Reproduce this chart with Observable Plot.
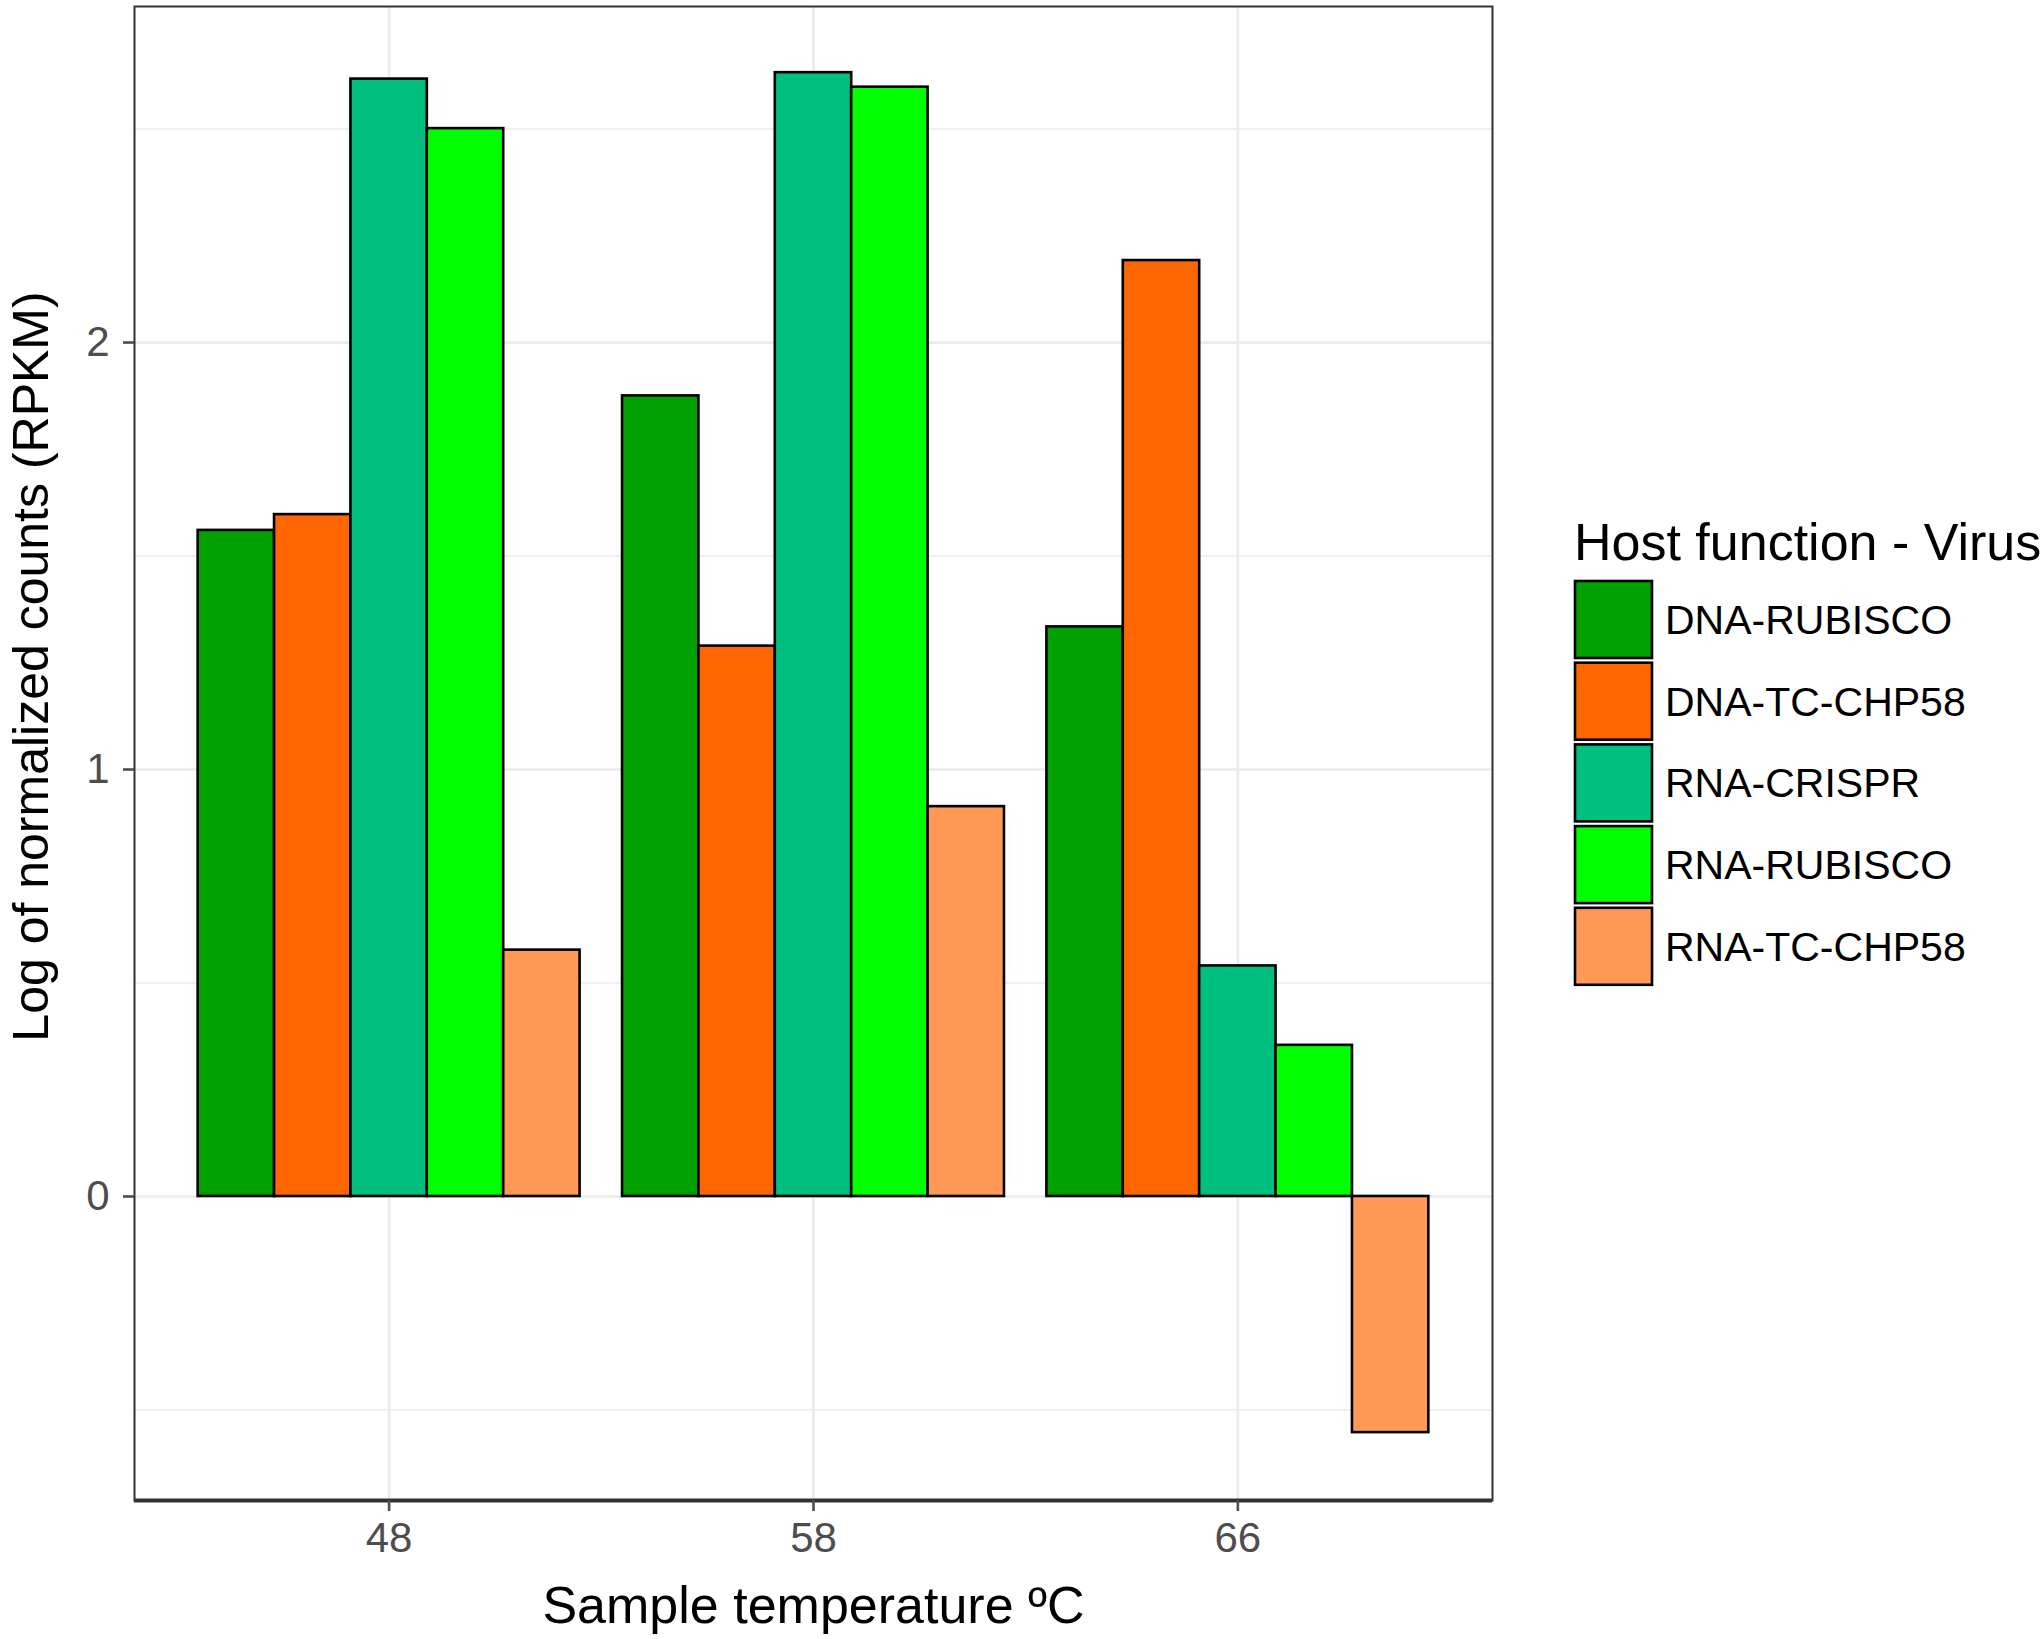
<!DOCTYPE html>
<html>
<head>
<meta charset="utf-8">
<script src="https://cdn.jsdelivr.net/npm/d3@7"></script>
<script src="https://cdn.jsdelivr.net/npm/@observablehq/plot@0.6"></script>
<style>
  html, body { margin: 0; padding: 0; background: white; }
  #wrap { position: relative; width: 2043px; height: 1639px; overflow: hidden; background: white; }
  #wrap > svg { position: absolute; left: 0; top: 0; }
</style>
</head>
<body>
<div id="wrap"></div>
<script>
// ---- data ----
const temps = ["48", "58", "66"];
const series = ["DNA-RUBISCO", "DNA-TC-CHP58", "RNA-CRISPR", "RNA-RUBISCO", "RNA-TC-CHP58"];
const colors = ["#00A000", "#FF6600", "#00BF7F", "#00FF00", "#FF9955"];
const dnaRubisco = [1.560, 1.875, 1.334];
const dnaTcChp58 = [1.597, 1.289, 2.192];
const rnaCrispr  = [2.617, 2.632, 0.540];
const rnaRubisco = [2.501, 2.598, 0.354];
const rnaTcChp58 = [0.577, 0.913, -0.553];
const yTicks = [0, 1, 2];
const yMinor = [-0.5, 0.5, 1.5, 2.5];
const yDomain = [-0.712, 2.787];
const xTitle = "Sample temperature ºC";
const yTitle = "Log of normalized counts (RPKM)";
const legendTitle = "Host function - Virus";

// discrete x positions (one unit per temperature) with ggplot-style dodge (total width 0.9)
const xIdx = temps.map((t, i) => i);
const xDomain = [-0.6, temps.length - 1 + 0.6];
const dodgeWidth = 0.9;
const valuesBySeries = [dnaRubisco, dnaTcChp58, rnaCrispr, rnaRubisco, rnaTcChp58];
const barW = dodgeWidth / series.length;
const data = [];
temps.forEach((t, ti) => series.forEach((s, si) => {
  const x1 = ti - dodgeWidth / 2 + si * barW;
  data.push({temp: t, series: s, value: valuesBySeries[si][ti], x1, x2: x1 + barW});
}));

const font = "'Liberation Sans', Arial, Helvetica, sans-serif";
const grid = "#EBEBEB";

const plot = Plot.plot({
  width: 1520,
  height: 1639,
  marginLeft: 134,
  marginRight: 28,
  marginTop: 6,
  marginBottom: 139,
  style: {fontFamily: font, background: "white", overflow: "visible"},
  x: {type: "linear", domain: xDomain, axis: null},
  y: {domain: yDomain, axis: null},
  color: {domain: series, range: colors},
  marks: [
    Plot.ruleY(yMinor, {stroke: grid, strokeWidth: 1.4}),
    Plot.ruleY(yTicks, {stroke: grid, strokeWidth: 2.7}),
    Plot.ruleX(xIdx, {stroke: grid, strokeWidth: 2.7}),
    Plot.rectY(data, {x1: "x1", x2: "x2", y: "value", fill: "series", stroke: "black", strokeWidth: 2.6}),
    Plot.frame({stroke: "#333333", strokeWidth: 2}),
    Plot.ruleY([yDomain[0]], {stroke: "#333333", strokeWidth: 4}),
    Plot.axisY({ticks: yTicks, tickFormat: d => String(d), tickSize: 11, tickPadding: 14, fontSize: 42, color: "#4D4D4D", strokeWidth: 2.6, label: null}),
    Plot.axisX({ticks: xIdx, tickFormat: i => temps[i], tickSize: 11, tickPadding: 11, fontSize: 42, color: "#4D4D4D", strokeWidth: 2.6, label: null}),
    Plot.text([xTitle], {text: d => d, frameAnchor: "bottom", dy: 122, fontSize: 52, fill: "black"}),
    Plot.text([yTitle], {text: d => d, frameAnchor: "left", textAnchor: "middle", rotate: -90, dx: -103, dy: -87, fontSize: 50, fill: "black"})
  ]
});
document.getElementById("wrap").appendChild(plot);

// ---- legend (outside the plot SVG) ----
const colorScale = plot.scale("color");
const leg = d3.select("#wrap").append("svg")
  .attr("width", 2043).attr("height", 1639)
  .style("pointer-events", "none")
  .attr("font-family", font);
leg.append("text")
  .attr("x", 1574).attr("y", 560)
  .attr("font-size", 52).attr("fill", "black")
  .text(legendTitle);
const keyTop = 581, keyStep = 81.7, keySize = 77;
series.forEach((s, i) => {
  const y = keyTop + i * keyStep;
  leg.append("rect")
    .attr("x", 1575).attr("y", y).attr("width", keySize).attr("height", keySize)
    .attr("fill", colorScale.apply(s)).attr("stroke", "black").attr("stroke-width", 2.6);
  leg.append("text")
    .attr("x", 1665).attr("y", y + keySize / 2 + 14.5)
    .attr("font-size", 41).attr("fill", "black")
    .text(s);
});
</script>
</body>
</html>
